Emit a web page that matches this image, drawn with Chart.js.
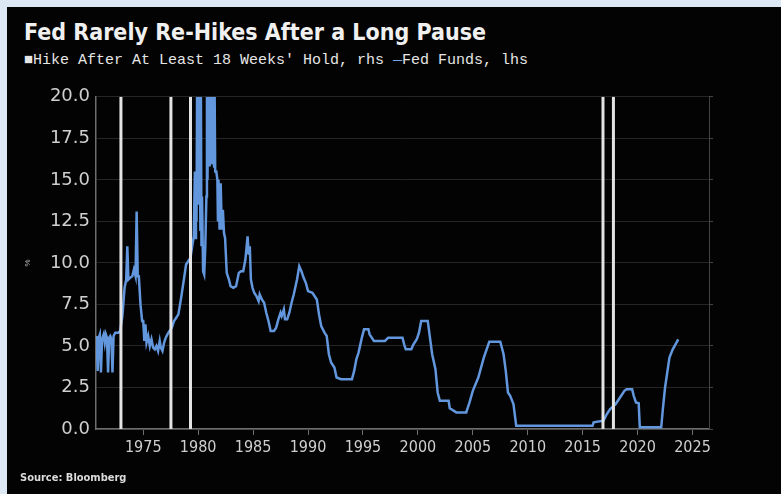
<!DOCTYPE html>
<html>
<head>
<meta charset="utf-8">
<script src="https://cdn.jsdelivr.net/npm/chart.js@4.4.0/dist/chart.umd.min.js"></script>
<style>
body{margin:0;background:#dce8f4;width:781px;height:494px;overflow:hidden;}
#panel{position:absolute;left:7px;top:7px;width:774px;height:487px;background:#030303;}
#title{position:absolute;left:17px;top:12px;color:#f0f0f0;font:bold 23px "DejaVu Sans Condensed","Liberation Sans",sans-serif;white-space:nowrap;}
#legend{position:absolute;left:17px;top:45px;color:#e6e6e6;font:15px "Liberation Mono","DejaVu Sans Mono",monospace;white-space:nowrap;}
#legend .dash{color:#7aa6e6;}
#source{position:absolute;left:13px;top:464px;color:#dcdcdc;font:bold 11px "DejaVu Sans Condensed","Liberation Sans",sans-serif;}
#wrap{position:absolute;left:0;top:73px;width:774px;height:392px;}
</style>
</head>
<body>
<div id="panel">
  <div id="title">Fed Rarely Re-Hikes After a Long Pause</div>
  <div id="legend">■Hike After At Least 18 Weeks' Hold, rhs <span class="dash">—</span>Fed Funds, lhs</div>
  <div id="wrap"><canvas id="chart"></canvas></div>
  <div id="source">Source: Bloomberg</div>
</div>
<script>
// fed funds rate
var fedYears = [1970.75,1970.85,1970.95,1971.05,1971.15,1971.25,1971.4,1971.5,1971.6,1971.7,1971.8,1971.9,1972.0,1972.1,1972.2,1972.3,1972.45,1972.6,1972.75,1972.9,
  1973.1,1973.3,1973.45,1973.55,1973.65,1973.8,1974.0,1974.15,1974.3,1974.4,1974.5,1974.6,1974.75,1974.9,1975.0,1975.1,1975.2,1975.3,1975.45,1975.6,1975.75,1975.9,
  1976.05,1976.2,1976.35,1976.5,1976.6,1976.75,1976.9,1977.05,1977.2,1977.4,1977.6,1977.8,1978.0,1978.2,1978.45,1978.7,1978.9,1979.1,1979.3,1979.5,1979.6,
  1979.7,1979.75,1979.8,1979.85,1979.9,1979.95,1980.0,1980.05,1980.1,1980.15,1980.2,1980.25,1980.3,1980.35,1980.45,1980.55,1980.65,1980.75,1980.8,1980.85,1980.9,1980.95,
  1981.0,1981.05,1981.1,1981.15,1981.2,1981.3,1981.35,1981.45,1981.5,1981.55,1981.65,1981.75,1981.8,1981.85,1981.95,1982.05,1982.15,1982.25,1982.35,1982.45,1982.6,1982.8,1982.95,
  1983.2,1983.45,1983.7,1983.9,1984.1,1984.3,1984.5,1984.6,1984.7,1984.8,1984.95,1985.1,1985.3,1985.5,1985.6,1985.8,1986.0,1986.2,1986.4,1986.6,1986.9,
  1987.1,1987.3,1987.5,1987.6,1987.8,1987.9,1988.1,1988.3,1988.5,1988.7,1989.0,1989.2,1989.4,1989.6,1989.8,1990.0,1990.4,1990.8,1991.0,1991.2,1991.5,1991.7,1991.9,
  1992.1,1992.4,1992.6,1993.0,1993.5,1994.0,1994.2,1994.4,1994.6,1994.9,1995.1,1995.5,1995.6,1996.0,1996.5,1997.0,1997.3,1998.0,1998.6,1998.75,1998.9,1999.4,1999.6,1999.9,
  2000.1,2000.3,2000.9,2001.1,2001.3,2001.6,2001.8,2002.0,2002.8,2002.9,2003.5,2004.4,2004.7,2005.0,2005.5,2006.0,2006.5,2007.5,2007.8,2008.0,2008.2,2008.4,2008.7,2008.95,
  2015.9,2016.0,2016.9,2017.2,2017.5,2018.0,2018.4,2018.8,2019.0,2019.5,2019.65,2019.85,2020.1,2020.2,2022.15,2022.3,2022.5,2022.7,2022.9,2023.2,2023.45,2023.7];
var fedRates = [5.6,3.5,5.5,5.7,3.4,5.4,5.7,5.2,5.7,5.5,3.4,5.5,5.6,5.4,3.4,5.6,5.8,5.8,5.8,5.9,
  6.8,8.5,9.0,11.0,9.0,9.1,9.2,9.6,9.2,13.1,9.2,9.2,7.5,6.5,6.5,5.3,6.3,5.2,5.6,5.0,5.4,4.9,
  4.8,5.0,4.7,5.3,4.9,4.7,5.2,5.5,5.7,5.9,6.1,6.5,6.7,6.9,7.9,9.0,9.9,10.1,10.3,11.2,11.6,
  15.5,11.5,15.5,12.5,20,14,20,13.5,15.5,20,12,20,11,14,9.5,9.3,11,14,20,15,20,16,
  20,15.8,20,16,20,16,20,15.8,20,15.5,15.5,15.0,12.5,15,12,14.8,12,13.2,11.8,11.5,9.4,9.0,8.6,
  8.5,8.6,9.4,9.5,9.5,10.2,11.6,10.5,11.0,9.0,8.5,8.2,8.0,7.7,8.1,7.8,7.6,7.0,6.5,5.9,5.9,
  6.1,6.6,7.0,6.8,7.2,6.6,6.6,7.0,7.6,8.1,9.0,9.8,9.5,9.1,8.8,8.3,8.2,7.8,6.9,6.2,5.8,5.6,4.5,
  4.0,3.7,3.1,3.0,3.0,3.0,3.5,4.2,4.6,5.5,6.0,6.0,5.7,5.3,5.3,5.3,5.5,5.5,5.5,5.1,4.8,4.8,5.1,5.4,
  5.8,6.5,6.5,5.5,4.5,3.6,2.2,1.7,1.7,1.25,1.0,1.0,1.6,2.3,3.1,4.3,5.25,5.25,4.5,3.5,2.2,2.0,1.5,0.2,
  0.2,0.4,0.5,0.9,1.2,1.5,1.9,2.3,2.4,2.4,2.0,1.6,1.55,0.1,0.1,1.2,2.5,3.4,4.3,4.8,5.1,5.4];
// hikes after at least 18 weeks' hold (rhs)
var hikeYears = [1972.97, 1977.52, 1979.3, 2016.85, 2017.8];
var xTickYears = [1975, 1980, 1985, 1990, 1995, 2000, 2005, 2010, 2015, 2020, 2025];
var yTickValues = [0, 2.5, 5, 7.5, 10, 12.5, 15, 17.5, 20];

var fedData = [];
for (var i = 0; i < fedYears.length; i++) {
  fedData.push({x: fedYears[i], y: fedRates[i]});
}
var hikeData = [];
for (var j = 0; j < hikeYears.length; j++) {
  hikeData.push({x: hikeYears[j], y: 0});
  hikeData.push({x: hikeYears[j], y: 20});
  hikeData.push({x: hikeYears[j], y: null});
}

var axisGray = '#6e6e6e';
var labelGray = '#cfcfcf';

new Chart(document.getElementById('chart'), {
  type: 'line',
  data: {
    datasets: [
      {
        label: "Hike After At Least 18 Weeks' Hold, rhs",
        data: hikeData,
        borderColor: '#e4e4e4',
        borderWidth: 3,
        pointRadius: 0,
        spanGaps: false
      },
      {
        label: 'Fed Funds, lhs',
        data: fedData,
        borderColor: '#6297de',
        borderWidth: 2.5,
        pointRadius: 0,
        tension: 0
      }
    ]
  },
  options: {
    responsive: true,
    maintainAspectRatio: false,
    animation: false,
    layout: {padding: {left: 16, right: 66, top: 13, bottom: 0}},
    plugins: {legend: {display: false}, tooltip: {enabled: false}},
    scales: {
      x: {
        type: 'linear',
        min: 1970.7,
        max: 2026.5,
        offset: false,
        afterBuildTicks: function (scale) {
          scale.ticks = xTickYears.map(function (v) { return {value: v}; });
        },
        afterFit: function (scale) { scale.height = 43; },
        grid: {drawOnChartArea: false, drawTicks: true, tickLength: 6, color: axisGray},
        border: {color: axisGray, width: 1.5},
        ticks: {
          color: labelGray,
          padding: 3,
          maxRotation: 0,
          font: {family: '"DejaVu Sans Condensed", "Liberation Sans Narrow", sans-serif', size: 16},
          callback: function (v) { return String(v); }
        }
      },
      y: {
        min: 0,
        max: 20,
        afterBuildTicks: function (scale) {
          scale.ticks = yTickValues.map(function (v) { return {value: v}; });
        },
        afterFit: function (scale) { scale.width = 73; },
        grid: {color: '#262626', lineWidth: 1, drawTicks: false},
        border: {color: axisGray, width: 1.5},
        title: {display: true, text: '%', color: '#bbbbbb', font: {size: 8}, padding: 0},
        ticks: {
          color: labelGray,
          padding: 6,
          font: {family: '"DejaVu Sans", sans-serif', size: 18},
          callback: function (v) { return Number(v).toFixed(1); }
        }
      },
      yR: {
        position: 'right',
        min: 0,
        max: 20,
        afterBuildTicks: function (scale) {
          scale.ticks = yTickValues.map(function (v) { return {value: v}; });
        },
        afterFit: function (scale) { scale.width = 6; },
        grid: {drawOnChartArea: false, drawTicks: true, tickLength: 4, color: '#444'},
        border: {color: '#444', width: 1},
        ticks: {display: false}
      }
    }
  }
});
</script>
</body>
</html>
